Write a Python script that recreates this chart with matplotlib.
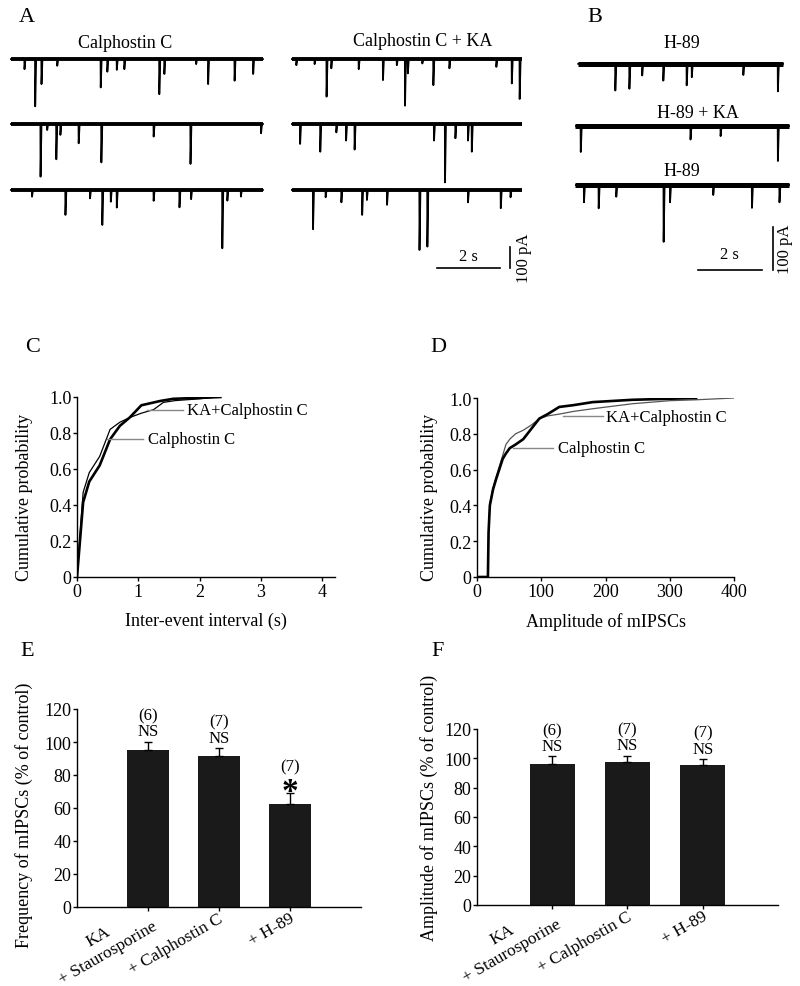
import numpy as np
import matplotlib
matplotlib.use("Agg")
import matplotlib.pyplot as plt
from matplotlib.transforms import ScaledTranslation

plt.rcParams['font.family'] = 'Liberation Serif'
plt.rcParams['font.size'] = 13

W, H = 800, 987

# ---- data -------------------------------------------------------------
# A: mIPSC events (time s, amplitude pA) for the three sweeps
calph_dur = 8.0
calph_times = [[0.43, 0.77, 0.97, 1.47, 2.85, 3.06, 3.36, 3.6, 4.71, 4.87, 5.88, 6.26, 7.1, 7.69],
               [0.94, 1.15, 1.44, 1.57, 2.15, 2.87, 4.53, 5.7, 7.94],
               [0.67, 1.73, 2.51, 2.9, 3.17, 3.36, 4.53, 5.35, 5.72, 6.71, 6.87, 7.3]]
calph_amps = [[48, 225, 119, 32, 135, 60, 51, 48, 167, 71, 24, 119, 103, 71],
              [251, 29, 168, 52, 92, 183, 60, 190, 44],
              [32, 119, 40, 167, 56, 84, 52, 83, 44, 278, 51, 32]]

calph_ka_dur = 7.3
calph_ka_times = [[0.14, 0.72, 1.1, 1.25, 2.12, 2.89, 3.33, 3.59, 3.68, 4.14, 4.49, 5.0, 6.49, 6.98, 7.23],
                  [0.26, 0.9, 1.41, 1.72, 1.99, 4.51, 4.86, 5.19, 5.59, 5.71],
                  [0.67, 1.07, 1.57, 2.23, 2.38, 3.02, 4.05, 4.3, 5.59, 6.63, 6.94]]
calph_ka_amps = [[29, 24, 179, 44, 48, 100, 29, 222, 68, 21, 124, 44, 37, 116, 190],
                 [95, 132, 40, 79, 122, 79, 278, 68, 79, 132],
                 [187, 35, 59, 119, 48, 71, 286, 270, 59, 87, 35]]

# B: H-89 / H-89 + KA / H-89
h89_titles = ["H-89", "H-89 + KA", "H-89"]
h89_start = [0.1, 0.0, 0.0]
h89_dur = [6.4, 6.7, 6.7]
h89_times = [[1.16, 1.6, 2.0, 2.66, 3.39, 3.55, 5.16, 6.24],
             [0.18, 3.61, 4.55, 6.34],
             [0.28, 0.74, 1.29, 2.77, 2.97, 4.32, 5.53, 6.39]]
h89_amps = [[62, 58, 27, 39, 50, 31, 26, 64],
            [60, 31, 23, 81],
            [40, 54, 27, 132, 40, 23, 53, 40]]

# C: cumulative inter-event interval
c_calph_x = [0, 0.1, 0.2, 0.37, 0.54, 0.7, 0.86, 1.05, 1.36, 1.57, 2.0, 2.34]
c_calph_y = [0, 0.415, 0.53, 0.62, 0.765, 0.84, 0.886, 0.954, 0.978, 0.99, 0.995, 1.0]
c_ka_x = [0, 0.1, 0.2, 0.37, 0.54, 0.7, 0.86, 1.05, 1.25, 1.41, 1.6, 2.0, 2.28]
c_ka_y = [0, 0.47, 0.58, 0.67, 0.82, 0.86, 0.886, 0.91, 0.93, 0.97, 0.98, 0.99, 1.0]

# D: cumulative amplitude
d_calph_x = [0, 17, 18, 20, 25, 30, 40, 45, 51, 60, 72, 85, 97, 110, 128, 150, 180, 242, 341]
d_calph_y = [0, 0, 0.25, 0.40, 0.49, 0.55, 0.66, 0.69, 0.72, 0.74, 0.77, 0.83, 0.885, 0.91, 0.95, 0.96, 0.977, 0.99, 1.0]
d_ka_x = [0, 17, 18, 20, 25, 30, 40, 45, 51, 60, 72, 85, 97, 110, 128, 150, 180, 242, 300, 341, 400]
d_ka_y = [0, 0, 0.25, 0.41, 0.50, 0.56, 0.68, 0.74, 0.77, 0.80, 0.82, 0.85, 0.885, 0.90, 0.91, 0.925, 0.94, 0.968, 0.985, 0.99, 1.0]

# E / F: bar summaries
groups = ["KA\n+ Staurosporine", "+ Calphostin C", "+ H-89"]
freq_mean = [95.1, 91.5, 62.5]
freq_err = [5.1, 4.7, 6.5]
freq_n = ["(6)", "(7)", "(7)"]
freq_sig = ["NS", "NS", "*"]
amp_mean = [95.9, 97.5, 95.5]
amp_err = [5.5, 4.3, 4.0]
amp_n = ["(6)", "(7)", "(7)"]
amp_sig = ["NS", "NS", "NS"]


def rect(left, top, right, bottom):
    return [left / W, 1 - bottom / H, (right - left) / W, (bottom - top) / H]


def fx(px):
    return px / W


def fy(py):
    return 1 - py / H


def sweep(t0, times, amps, dur, off):
    x = [t0]
    y = [off]
    for t, a in zip(times, amps):
        x += [t0 + t - 0.005, t0 + t, t0 + t + 0.03]
        y += [off, off - a, off]
    x.append(t0 + dur)
    y.append(off)
    return x, y


fig = plt.figure(figsize=(8, 9.87), dpi=100)

# ---- panel A ----------------------------------------------------------
axA = fig.add_axes(rect(10, 30, 522, 285))
axA.set_xlim(0, 512 / 31.5)
axA.set_ylim(0, 255 / 0.21)
axA.axis('off')
offsA = [1071, 762, 448]
for i in range(3):
    x, y = sweep(0.03, calph_times[i], calph_amps[i], calph_dur, offsA[i])
    axA.plot(x, y, color='k', lw=1.3)
    axA.plot([0.03, 0.03 + calph_dur], [offsA[i], offsA[i]], color='k', lw=2.8, solid_capstyle='butt')
    x, y = sweep(8.95, calph_ka_times[i], calph_ka_amps[i], calph_ka_dur, offsA[i])
    axA.plot(x, y, color='k', lw=1.3)
    axA.plot([8.95, 8.95 + calph_ka_dur], [offsA[i], offsA[i]], color='k', lw=2.8, solid_capstyle='butt')
# scale bars
axA.plot([13.56, 15.56], [76, 76], color='k', lw=1.2)
axA.plot([15.87, 15.87], [76, 176], color='k', lw=1.2)
axA.text(14.56, 96, "2 s", ha='center', va='bottom', fontsize=12)
axA.text(16.05, 126, "100 pA", rotation=90, ha='left', va='center', fontsize=12)

fig.text(fx(125), fy(43), "Calphostin C", ha='center', va='center', fontsize=13)
fig.text(fx(423), fy(42), "Calphostin C + KA", ha='center', va='center', fontsize=13)

# ---- panel B ----------------------------------------------------------
axB = fig.add_axes(rect(575, 30, 790, 285))
axB.set_xlim(0, 215 / 32)
axB.set_ylim(0, 255 / 0.43)
axB.axis('off')
offsB = [512, 367, 230]
titleB_y = [43, 113, 172]
for i in range(3):
    x, y = sweep(h89_start[i], h89_times[i], h89_amps[i], h89_dur[i], offsB[i])
    axB.plot(x, y, color='k', lw=1.3)
    axB.plot([h89_start[i], h89_start[i] + h89_dur[i]], [offsB[i], offsB[i]], color='k',
             lw=3.6, solid_capstyle='butt')
    fig.text(fx(682 if i != 1 else 698), fy(titleB_y[i]), h89_titles[i], ha='center', va='center', fontsize=13)
axB.plot([3.84, 5.84], [33, 33], color='k', lw=1.2)
axB.plot([6.19, 6.19], [33, 133], color='k', lw=1.2)
axB.text(4.84, 50, "2 s", ha='center', va='bottom', fontsize=12)
axB.text(6.3, 83, "100 pA", rotation=90, ha='left', va='center', fontsize=12)


def style(ax):
    for s in ['top', 'right']:
        ax.spines[s].set_visible(False)
    for s in ['left', 'bottom']:
        ax.spines[s].set_linewidth(1.0)
    ax.tick_params(direction='out', length=3, width=1, labelsize=13, pad=1)


# ---- panel C ----------------------------------------------------------
axC = fig.add_axes(rect(77, 398, 335, 578))
style(axC)
axC.plot(c_ka_x, c_ka_y, color='k', lw=0.9)
axC.plot(c_calph_x, c_calph_y, color='k', lw=1.9)
axC.set_xlim(0, 4.21)
axC.set_ylim(0, 1.0)
axC.set_xticks([0, 1, 2, 3, 4])
axC.set_yticks([0, 0.2, 0.4, 0.6, 0.8, 1.0])
axC.set_yticklabels(["0", "0.2", "0.4", "0.6", "0.8", "1.0"])
axC.plot([1.14, 1.73], [0.93, 0.93], color='#888888', lw=1)
axC.text(1.80, 0.93, "KA+Calphostin C", va='center', fontsize=12)
axC.plot([0.49, 1.08], [0.767, 0.767], color='#888888', lw=1)
axC.text(1.16, 0.767, "Calphostin C", va='center', fontsize=12)
axC.set_ylabel("Cumulative probability")
axC.set_xlabel("Inter-event interval (s)")
axC.yaxis.set_label_coords(-0.171, 0.45)
axC.xaxis.set_label_coords(0.5, -0.194)

# ---- panel D ----------------------------------------------------------
axD = fig.add_axes(rect(477, 399, 734, 578))
style(axD)
axD.plot(d_ka_x, d_ka_y, color='#555555', lw=0.9)
axD.plot(d_calph_x, d_calph_y, color='k', lw=1.9)
axD.set_xlim(0, 400)
axD.set_ylim(0, 1.0)
axD.set_xticks([0, 100, 200, 300, 400])
axD.set_yticks([0, 0.2, 0.4, 0.6, 0.8, 1.0])
axD.set_yticklabels(["0", "0.2", "0.4", "0.6", "0.8", "1.0"])
axD.plot([134, 196], [0.9, 0.9], color='#888888', lw=1)
axD.text(201, 0.894, "KA+Calphostin C", va='center', fontsize=12)
axD.plot([56, 118], [0.72, 0.72], color='#888888', lw=1)
axD.text(126, 0.72, "Calphostin C", va='center', fontsize=12)
axD.set_ylabel("Cumulative probability")
axD.set_xlabel("Amplitude of mIPSCs")
axD.yaxis.set_label_coords(-0.152, 0.45)
axD.xaxis.set_label_coords(0.5, -0.194)

# ---- panels E, F ------------------------------------------------------
pos = [1, 2, 3]


def bars(ax, mean, err, ns, sig, ylabel):
    style(ax)
    ax.bar(pos, mean, width=0.6, color='#1a1a1a')
    ax.errorbar(pos, mean, yerr=[np.zeros(len(err)), err], fmt='none', ecolor='k',
                elinewidth=1, capsize=3, capthick=1)
    for p, m, e, n, s in zip(pos, mean, err, ns, sig):
        if s == "*":
            ax.annotate(s, (p, m + e), xytext=(0, -5), textcoords='offset points',
                        ha='center', va='baseline', fontsize=24, fontweight='bold')
        else:
            ax.annotate(s, (p, m + e), xytext=(0, 7.5), textcoords='offset points',
                        ha='center', va='center', fontsize=12)
        ax.annotate(n, (p, m + e), xytext=(0, 19), textcoords='offset points',
                    ha='center', va='center', fontsize=12)
    ax.set_xlim(0, 4)
    ax.set_ylim(0, 120)
    ax.set_yticks(range(0, 121, 20))
    ax.set_xticks(pos)
    ax.set_xticklabels(groups, rotation=30, ha='right', va='center', fontsize=12.5,
                       rotation_mode='anchor', multialignment='center')
    ax.tick_params(axis='x', pad=4)
    for lbl in ax.get_xticklabels():
        lbl.set_transform(lbl.get_transform() + ScaledTranslation(3 / 100, 0, fig.dpi_scale_trans))
    ax.set_ylabel(ylabel)


axE = fig.add_axes(rect(77, 710, 361, 908))
bars(axE, freq_mean, freq_err, freq_n, freq_sig, "Frequency of mIPSCs (% of control)")
axE.yaxis.set_label_coords(-0.155, 0.47)

axF = fig.add_axes(rect(477, 730, 778, 906))
bars(axF, amp_mean, amp_err, amp_n, amp_sig, "Amplitude of mIPSCs (% of control)")
axF.yaxis.set_label_coords(-0.13, 0.56)

# panel letters
for lt, x, y in [("A", 27, 17), ("B", 595, 17), ("C", 33, 348), ("D", 438, 348),
                 ("E", 27, 652), ("F", 438, 652)]:
    fig.text(fx(x), fy(y), lt, ha='center', va='center', fontsize=16)

fig.savefig("out.png", dpi=100)
